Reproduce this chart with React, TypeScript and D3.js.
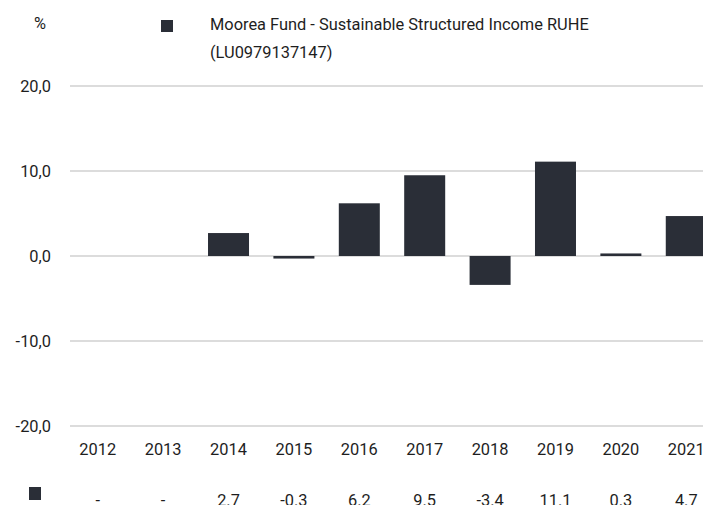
import React from "react";
import * as d3 from "d3";

const years = ["2012", "2013", "2014", "2015", "2016", "2017", "2018", "2019", "2020", "2021"];
const values: (number | null)[] = [null, null, 2.7, -0.3, 6.2, 9.5, -3.4, 11.1, 0.3, 4.7];
const yTicks = [20, 10, 0, -10, -20];
const seriesName = ["Moorea Fund - Sustainable Structured Income RUHE", "(LU0979137147)"];

const W = 703;
const H = 505;
const FONT = "Roboto, 'Open Sans', sans-serif";
const FS = 16.4;
const BAR = "#2a2e37";
const TXT = "#1e1e1e";

export default function App() {
  const y = d3.scaleLinear().domain([-20, 20]).range([426, 86]);
  const x = d3.scaleBand<string>().domain(years).range([65, 719]).paddingInner(0.373).paddingOuter(0.187);
  const fmt = (v: number) => v.toFixed(1).replace(".", ",");
  return (
    <svg width={W} height={H} style={{ position: "absolute", left: 0, top: 0, fontFamily: FONT }}>
      <rect width={W} height={H} fill="#fff" />
      <text x={40} y={29} fontSize={FS} fill={TXT} textAnchor="middle">%</text>
      <rect x={161} y={20} width={12} height={12} fill={BAR} />
      {seriesName.map((s, i) => (
        <text key={i} x={210} y={30 + i * 28} fontSize={FS} fill={TXT}>{s}</text>
      ))}
      {yTicks.map((t) => (
        <g key={t}>
          <line x1={70} x2={W} y1={y(t)} y2={y(t)} stroke="#dcdcdc" strokeWidth={2} />
          <text x={51} y={y(t) + 6} fontSize={FS} fill={TXT} textAnchor="end">{fmt(t)}</text>
        </g>
      ))}
      {years.map((yr, i) => {
        const v = values[i];
        const cx = (x(yr) as number) + x.bandwidth() / 2;
        return (
          <g key={yr}>
            {v !== null && (
              <rect x={x(yr)} width={x.bandwidth()} y={y(Math.max(0, v))} height={Math.abs(y(v) - y(0))} fill={BAR} />
            )}
            <text x={cx} y={455} fontSize={FS} fill={TXT} textAnchor="middle">{yr}</text>
            <text x={cx} y={506} fontSize={FS} fill={TXT} textAnchor="middle">{v === null ? "-" : String(v)}</text>
          </g>
        );
      })}
      <rect x={29} y={487} width={12} height={13} fill={BAR} />
    </svg>
  );
}
